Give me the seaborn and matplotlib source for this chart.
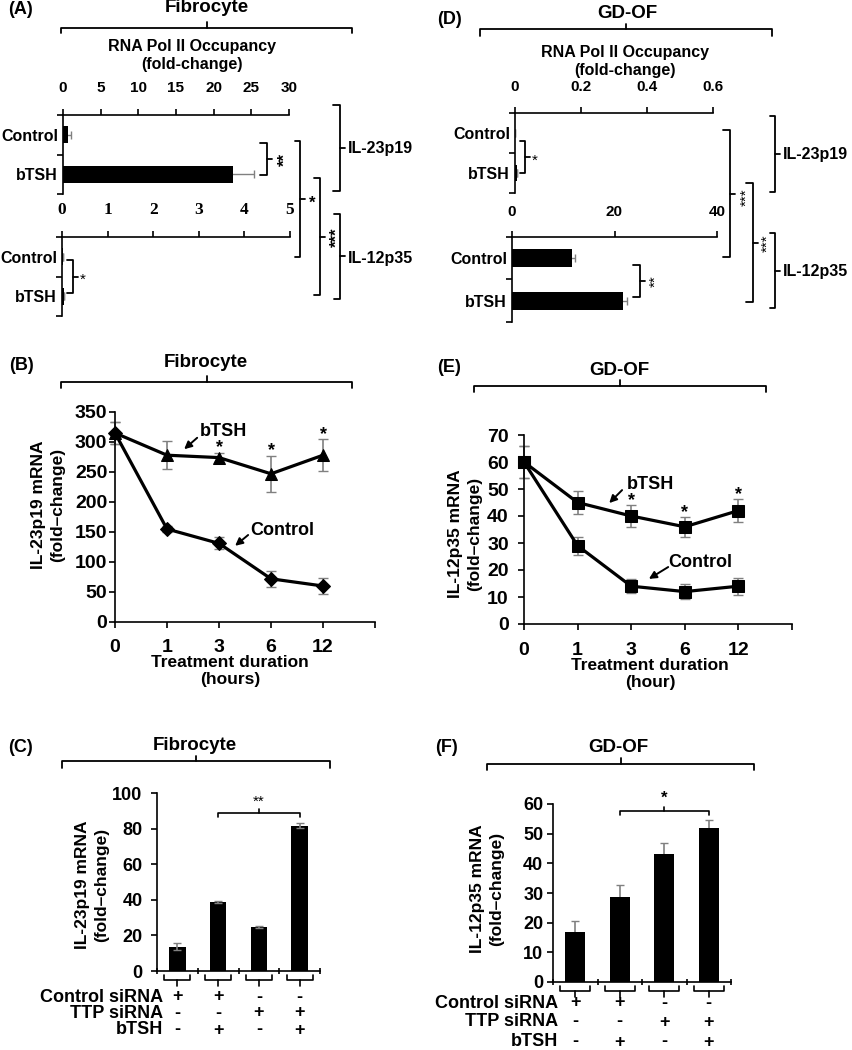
import numpy as np
import pandas as pd
import matplotlib
matplotlib.use('Agg')
import matplotlib.pyplot as plt
import matplotlib.transforms as mtransforms
from matplotlib.lines import Line2D
import seaborn as sns

# ---- values ----
groups = ['Control', 'bTSH']

# (A) Fibrocyte, RNA Pol II occupancy
a_p19 = [0.6, 22.6]
a_p19_err = [0.5, 2.8]
a_p35 = [0.02, 0.04]
a_p35_err = [0.0, 0.0]

# (D) GD-OF, RNA Pol II occupancy
d_p19 = [0.001, 0.006]
d_p19_err = [0.0, 0.0]
d_p35 = [11.7, 21.7]
d_p35_err = [0.5, 0.8]

# (B)/(E) time course
hours = ['0', '1', '3', '6', '12']
b_ctrl = [315, 155, 131, 72, 60]
b_ctrl_err = [18, 5, 10, 13, 14]
b_tsh = [315, 278, 274, 247, 278]
b_tsh_err = [18, 23, 8, 30, 27]
e_ctrl = [60, 29, 14, 12, 14]
e_ctrl_err = [6, 3.3, 2.7, 2.8, 3.2]
e_tsh = [60, 45, 40, 36, 42]
e_tsh_err = [6, 4.3, 4.0, 3.6, 4.2]

# (C)/(F) siRNA knockdown
conditions = ['siCtrl', 'siCtrl+bTSH', 'siTTP', 'siTTP+bTSH']
ctrl_sirna = ['+', '+', '-', '-']
ttp_sirna = ['-', '-', '+', '+']
btsh_row = ['-', '+', '-', '+']
c_vals = [13.7, 38.7, 24.8, 81.6]
c_err = [2.0, 0.5, 0.6, 1.3]
f_vals = [17.0, 28.8, 43.2, 51.8]
f_err = [3.5, 3.8, 3.8, 2.8]

sns.set_style('ticks')
plt.rcParams['font.family'] = ['Liberation Sans', 'DejaVu Sans']
plt.rcParams['font.weight'] = 'bold'
plt.rcParams['axes.linewidth'] = 1.2
plt.rcParams['axes.edgecolor'] = 'black'
plt.rcParams['xtick.color'] = 'black'
plt.rcParams['ytick.color'] = 'black'
plt.rcParams['text.color'] = 'black'

W, H = 852, 1050
fig = plt.figure(figsize=(W / 100, H / 100), dpi=100)
fig.patch.set_facecolor('white')
ERR = '#808080'


def fx(x):
    return x / W


def fy(y):
    return 1 - y / H


def add_ax(l, t, r, b):
    return fig.add_axes([fx(l), fy(b), (r - l) / W, (b - t) / H])


def ftext(x, y, s, **kw):
    kw.setdefault('ha', 'center')
    kw.setdefault('va', 'center')
    return fig.text(fx(x), fy(y), s, **kw)


def fline(xs, ys, lw=1.3):
    fig.add_artist(Line2D([fx(v) for v in xs], [fy(v) for v in ys], lw=lw,
                          color='black', transform=fig.transFigure))


def hbrace(x0, x1, y, drop, rise):
    xm = (x0 + x1) / 2
    fline([x0, x0, x1, x1], [y + drop, y, y, y + drop])
    fline([xm, xm], [y, y - rise])


def vbrace(x0, x1, y0, y1, tick=5):
    ym = (y0 + y1) / 2
    fline([x0, x1, x1, x0], [y0, y0, y1, y1])
    fline([x1, x1 + tick], [ym, ym])


def occupancy(ax, vals, errs, xmax, ticks, ticklabels, pad, serif=False):
    sns.barplot(x=vals, y=groups, orient='h', color='black', width=0.42,
                errorbar=None, edgecolor='black', linewidth=0, ax=ax)
    ax.errorbar(vals, np.arange(len(groups)), xerr=errs, fmt='none', ecolor=ERR,
                elinewidth=1, capsize=3, zorder=0.5)
    ax.set_xlim(0, xmax)
    ax.set_ylim(1.5, -0.5)
    ax.xaxis.set_ticks_position('top')
    ax.set_xticks(ticks)
    ax.set_xticklabels(ticklabels)
    ax.spines[['bottom', 'right']].set_visible(False)
    ax.set_yticks([-0.5, 0.5, 1.5], minor=True)
    ax.tick_params(axis='y', which='major', length=0, pad=3.5, labelsize=11.5)
    ax.tick_params(axis='y', which='minor', length=4, width=1.2, direction='out')
    ax.tick_params(axis='x', which='major', top=True, bottom=False, labeltop=True,
                   labelbottom=False, length=4, width=1.2, direction='out',
                   pad=pad, labelsize=12.5 if serif else 11)
    if serif:
        for lbl in ax.get_xticklabels():
            lbl.set_fontfamily('Liberation Serif')
    ax.set_xlabel('')
    ax.set_ylabel('')
    ax.patch.set_alpha(0)


def timecourse(ax, ctrl, ctrl_err, tsh, tsh_err, markers, msizes, ymax, ystep, ypad, xpad):
    pos = np.arange(len(hours))
    df = pd.DataFrame({'pos': np.concatenate([pos, pos]),
                       'value': ctrl + tsh,
                       'group': ['Control'] * len(hours) + ['bTSH'] * len(hours)})
    for g, vals, errs in [('Control', ctrl, ctrl_err), ('bTSH', tsh, tsh_err)]:
        ax.errorbar(pos, vals, yerr=errs, fmt='none', ecolor=ERR, elinewidth=1.2,
                    capsize=3.5, zorder=1.5, clip_on=False)
        sns.lineplot(data=df[df['group'] == g], x='pos', y='value', color='black',
                     marker=markers[g], markersize=msizes[g], markeredgecolor='black',
                     lw=2.3, errorbar=None, legend=False, ax=ax, clip_on=False)
    ax.set_xlim(0, 5)
    ax.set_ylim(0, ymax)
    ax.set_xticks(np.arange(6))
    ax.set_xticklabels(hours + [''])
    ax.set_yticks(np.arange(0, ymax + 1, ystep))
    ax.spines[['top', 'right']].set_visible(False)
    ax.tick_params(axis='both', length=4, width=1.2, direction='out', labelsize=14)
    ax.tick_params(axis='y', pad=ypad)
    ax.tick_params(axis='x', pad=xpad)
    ax.set_xlabel('')
    ax.set_ylabel('')
    ax.patch.set_alpha(0)


def knockdown(ax, vals, errs, ymax, ystep, width, ypad, err_on_top,
              br_top, br_half, row_ys, label_x, sig, sig_y, sig_fs):
    sns.barplot(x=conditions, y=vals, color='black', width=width, errorbar=None,
                edgecolor='black', linewidth=0, ax=ax)
    ax.errorbar(np.arange(len(conditions)), vals, yerr=errs, fmt='none', ecolor=ERR,
                elinewidth=1.2, capsize=3, zorder=3 if err_on_top else 0.5)
    ax.set_xlim(-0.5, len(conditions) - 0.5)
    ax.set_ylim(0, ymax)
    ax.set_yticks(np.arange(0, ymax + 1, ystep))
    ax.set_xticks([])
    ax.set_xticks(np.arange(len(conditions) + 1) - 0.5, minor=True)
    ax.spines[['top', 'right']].set_visible(False)
    ax.tick_params(axis='y', length=4, width=1.2, direction='out', labelsize=13, pad=ypad)
    ax.tick_params(axis='x', which='minor', length=5, width=1.2, direction='inout')
    ax.set_xlabel('')
    ax.set_ylabel('')
    # significance bracket between bar 2 and bar 4
    lo, hi = sig_y
    ax.plot([1, 1, 3, 3], [lo, hi, hi, lo], color='black', lw=1.2)
    ax.plot([2, 2], [hi, hi + (hi - lo)], color='black', lw=1.2)
    ax.text(2, hi + 3.0 * (hi - lo), sig, ha='center', va='center', fontsize=sig_fs,
            fontweight='normal' if len(sig) > 1 else 'bold')
    # brackets under the bars and treatment table
    tr = mtransforms.blended_transform_factory(ax.transData, fig.transFigure)
    for i in range(len(conditions)):
        ax.add_line(Line2D([i - br_half, i - br_half, i + br_half, i + br_half],
                           [fy(br_top), fy(br_top + 5), fy(br_top + 5), fy(br_top)],
                           color='black', lw=1.2, transform=tr, clip_on=False))
        ax.add_line(Line2D([i, i], [fy(br_top + 5), fy(br_top + 11)], color='black',
                           lw=1.2, transform=tr, clip_on=False))
    for name, row, y in zip(['Control siRNA', 'TTP siRNA', 'bTSH'],
                            [ctrl_sirna, ttp_sirna, btsh_row], row_ys):
        ftext(label_x, y, name, ha='right', fontsize=13)
        for i, s in enumerate(row):
            ax.text(i, fy(y), s, transform=tr, ha='center', va='center', fontsize=13)
    ax.patch.set_alpha(0)


# ---------------- (A) Fibrocyte occupancy ----------------
ftext(8, 9, '(A)', ha='left', fontsize=13)
ftext(207, 8, 'Fibrocyte', fontsize=13.5)
hbrace(61, 352, 28, 5, 6)
ftext(192, 55, 'RNA Pol II Occupancy\n(fold-change)', fontsize=11.5, linespacing=1.25)
ax_a1 = add_ax(63, 115, 289, 194)
occupancy(ax_a1, a_p19, a_p19_err, 30, np.arange(0, 31, 5),
          [str(v) for v in range(0, 31, 5)], pad=10.5)
ax_a2 = add_ax(62, 237, 290, 316)
occupancy(ax_a2, a_p35, a_p35_err, 5, np.arange(0, 6), [str(v) for v in range(6)],
          pad=9.5, serif=True)
vbrace(260, 267, 143, 175)
ftext(285, 160, '**', rotation=90, fontsize=12)
vbrace(295, 300, 141, 257)
ftext(312, 203, '*', fontsize=12)
vbrace(314, 320, 178, 295)
ftext(337, 237, '***', rotation=90, fontsize=12)
vbrace(333, 340, 105, 191)
ftext(348, 148, 'IL-23p19', ha='left', fontsize=11.5)
vbrace(334, 340, 214, 299)
ftext(348, 258, 'IL-12p35', ha='left', fontsize=11.5)
vbrace(67, 73, 260, 293)
ftext(83, 280, '*', fontsize=11, fontweight='normal')

# ---------------- (D) GD-OF occupancy ----------------
ftext(437, 20, '(D)', ha='left', fontsize=13)
ftext(627, 13, 'GD-OF', fontsize=13.5)
hbrace(480, 772, 29, 7, 5)
ftext(625, 62, 'RNA Pol II Occupancy\n(fold-change)', fontsize=11.5, linespacing=1.25)
ax_d1 = add_ax(515, 113, 713, 193)
occupancy(ax_d1, d_p19, d_p19_err, 0.6, [0, 0.2, 0.4, 0.6], ['0', '0.2', '0.4', '0.6'], pad=9.5)
ax_d2 = add_ax(512, 237, 717, 322)
occupancy(ax_d2, d_p35, d_p35_err, 40, [0, 20, 40], ['0', '20', '40'], pad=9)
vbrace(520, 525, 141, 173)
ftext(535, 161, '*', fontsize=11, fontweight='normal')
vbrace(633, 640, 265, 297)
ftext(656, 281, '**', rotation=90, fontsize=11, fontweight='normal')
vbrace(723, 730, 130, 257)
ftext(747, 197, '***', rotation=90, fontsize=11, fontweight='normal')
vbrace(746, 753, 183, 302)
ftext(768, 243, '***', rotation=90, fontsize=11, fontweight='normal')
vbrace(770, 775, 116, 192)
ftext(783, 155, 'IL-23p19', ha='left', fontsize=11.5)
vbrace(770, 775, 233, 308)
ftext(783, 271, 'IL-12p35', ha='left', fontsize=11.5)

# ---------------- (B) Fibrocyte time course ----------------
ftext(9, 365, '(B)', ha='left', fontsize=13)
ftext(206, 363, 'Fibrocyte', fontsize=13.5)
hbrace(61, 352, 382, 6, 6)
ax_b = add_ax(115, 412, 375, 622)
timecourse(ax_b, b_ctrl, b_ctrl_err, b_tsh, b_tsh_err, {'Control': 'D', 'bTSH': '^'},
           {'Control': 7, 'bTSH': 9}, 350, 50, ypad=1.5, xpad=8)
for i in [2, 3, 4]:
    ax_b.text(i, b_tsh[i] + b_tsh_err[i] + 8, '*', ha='center', va='center', fontsize=13)
ax_b.text(2.08, 318, 'bTSH', ha='center', va='center', fontsize=13)
ax_b.annotate('', xy=(1.33, 288), xytext=(1.58, 307),
              arrowprops=dict(arrowstyle='-|>', color='black', lw=1.4, mutation_scale=11,
                              shrinkA=0, shrinkB=0))
ax_b.text(3.22, 152, 'Control', ha='center', va='center', fontsize=13)
ax_b.annotate('', xy=(2.31, 127), xytext=(2.56, 145),
              arrowprops=dict(arrowstyle='-|>', color='black', lw=1.4, mutation_scale=11,
                              shrinkA=0, shrinkB=0))
ftext(48, 505, 'IL-23p19 mRNA\n(fold\u2013change)', rotation=90, fontsize=12.5, linespacing=1.3)
ftext(230, 671, 'Treatment duration\n(hours)', fontsize=12.5, linespacing=1.2)

# ---------------- (E) GD-OF time course ----------------
ftext(437, 368, '(E)', ha='left', fontsize=13)
ftext(619, 370, 'GD-OF', fontsize=13.5)
hbrace(474, 766, 386, 6, 6)
ax_e = add_ax(524, 435, 792, 624)
timecourse(ax_e, e_ctrl, e_ctrl_err, e_tsh, e_tsh_err, {'Control': 's', 'bTSH': 's'},
           {'Control': 8, 'bTSH': 8}, 70, 10, ypad=7, xpad=9)
for i in [2, 3, 4]:
    ax_e.text(i, e_tsh[i] + e_tsh_err[i] + 1.8, '*', ha='center', va='center', fontsize=13)
ax_e.text(2.35, 51.5, 'bTSH', ha='center', va='center', fontsize=13)
ax_e.annotate('', xy=(1.59, 44.8), xytext=(1.83, 49.6),
              arrowprops=dict(arrowstyle='-|>', color='black', lw=1.4, mutation_scale=11,
                              shrinkA=0, shrinkB=0))
ax_e.text(3.28, 22.6, 'Control', ha='center', va='center', fontsize=13)
ax_e.annotate('', xy=(2.33, 16.7), xytext=(2.69, 21.1),
              arrowprops=dict(arrowstyle='-|>', color='black', lw=1.4, mutation_scale=11,
                              shrinkA=0, shrinkB=0))
ftext(465, 534, 'IL-12p35 mRNA\n(fold\u2013change)', rotation=90, fontsize=12.5, linespacing=1.3)
ftext(650, 674, 'Treatment duration\n(hour)', fontsize=12.5, linespacing=1.2)

# ---------------- (C) Fibrocyte siRNA ----------------
ftext(8, 747, '(C)', ha='left', fontsize=13)
ftext(195, 745, 'Fibrocyte', fontsize=13.5)
hbrace(62, 330, 761, 7, 5)
ax_c = add_ax(157, 793, 320, 971)
knockdown(ax_c, c_vals, c_err, 100, 20, 0.4, ypad=6.5, err_on_top=True,
          br_top=975, br_half=0.32, row_ys=[997, 1013, 1030], label_x=163,
          sig='**', sig_y=(86.5, 88.7), sig_fs=11)
ftext(92, 885, 'IL-23p19 mRNA\n(fold\u2013change)', rotation=90, fontsize=12.5, linespacing=1.3)

# ---------------- (F) GD-OF siRNA ----------------
ftext(435, 747, '(F)', ha='left', fontsize=13)
ftext(618, 747, 'GD-OF', fontsize=13.5)
hbrace(487, 754, 764, 6, 6)
ax_f = add_ax(553, 804, 731, 982)
knockdown(ax_f, f_vals, f_err, 60, 10, 0.44, ypad=3, err_on_top=False,
          br_top=986, br_half=0.34, row_ys=[1003, 1022, 1042], label_x=558,
          sig='*', sig_y=(56.3, 57.7), sig_fs=12)
ftext(487, 889, 'IL-12p35 mRNA\n(fold\u2013change)', rotation=90, fontsize=12.5, linespacing=1.3)

fig.savefig('out.png', dpi=100, facecolor='white')
